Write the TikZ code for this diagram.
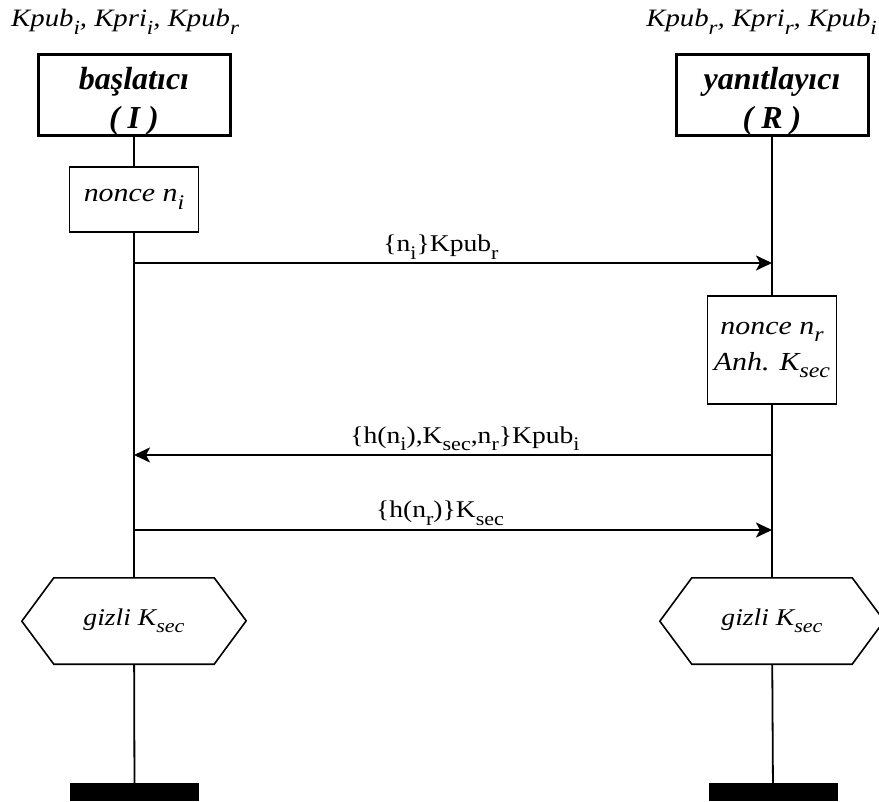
\documentclass[tikz,border=0pt]{standalone}
\usepackage{fontspec}
\usepackage{graphicx}
\setmainfont{Liberation Serif}
\newfontfamily\wideserif[FakeStretch=1.15]{Liberation Serif}
\usetikzlibrary{arrows.meta}

% lowered, slightly reduced index text
\newcommand{\lo}[1]{\raisebox{-0.3em}{\scalebox{0.8}{#1}}}

\tikzset{
  keylabel/.style={font=\wideserif\fontsize{25}{30}\selectfont\itshape, inner sep=0pt},
  rolebox/.style={draw, line width=3pt, minimum width=192pt, minimum height=81pt,
    inner sep=0pt},
  roletext/.style={align=center, inner sep=0pt,
    font=\fontsize{32}{39}\selectfont\bfseries\itshape},
  actbox/.style={draw, line width=1.6pt, minimum width=129pt, inner sep=0pt,
    align=center, font=\wideserif\fontsize{26}{36}\selectfont\itshape},
  hexcore/.style={minimum width=160pt, minimum height=86pt, inner sep=0pt,
    font=\wideserif\fontsize{24}{28}\selectfont\itshape},
  endbar/.style={fill=black, minimum width=129pt, minimum height=18pt, inner sep=0pt},
  lifeline/.style={line width=1.8pt},
  msg/.style={line width=2.2pt, -{Stealth[length=16pt,width=15pt,inset=4pt]}},
  msglabel/.style={anchor=base, inner sep=0pt, font=\wideserif\fontsize{24}{28}\selectfont},
  hexedge/.style={line width=1.6pt, line join=miter}
}

\newcommand{\hexframe}[1]{%
  \draw[hexedge] (#1.north west) -- (#1.north east) -- ++(32pt,-43pt)
    -- (#1.south east) -- (#1.south west) -- ++(-32pt,43pt) -- cycle;}

\begin{document}
\begin{tikzpicture}[x=1pt,y=-1pt]
  \useasboundingbox (0,0) rectangle (879,802);

  % key sets held by each party
  \node[keylabel, anchor=base west] (keysI) at (11,27)
    {Kpub\lo{i}, Kpri\lo{i}, Kpub\lo{r}};
  \node[keylabel, anchor=base east] (keysR) at (877,27)
    {Kpub\lo{r}, Kpri\lo{r}, Kpub\lo{i}};

  % parties
  \node[rolebox] (init) at (134,95.5) {};
  \node[roletext] (initName) at (134,101) {başlatıcı\\( I )};
  \node[rolebox] (resp) at (772,95.5) {};
  \node[roletext] (respName) at (772,101) {yanıtlayıcı\\( R )};

  % local actions
  \node[actbox, minimum height=65pt] (nonceI) at (134,199.5) {nonce n\lo{i}};
  \node[actbox, minimum height=108pt] (nonceR) at (772,350)
    {nonce n\lo{r}\\Anh. K\lo{sec}};

  % shared secret states
  \node[hexcore] (secI) at (134,621) {gizli K\lo{sec}};
  \node[hexcore] (secR) at (772,621) {gizli K\lo{sec}};
  \hexframe{secI}
  \hexframe{secR}

  % end of lifelines
  \node[endbar] (endI) at (134.5,792) {};
  \node[endbar] (endR) at (773,792) {};

  % lifelines
  \draw[lifeline] (init) -- (nonceI);
  \draw[lifeline] (nonceI) -- (secI);
  \draw[lifeline] (secI) -- (endI);
  \draw[lifeline] (resp) -- (nonceR);
  \draw[lifeline] (nonceR) -- (secR);
  \draw[lifeline] (secR) -- (endR);

  % message anchor points on the lifelines
  \coordinate (m1I) at (134,263);
  \coordinate (m1R) at (772,263);
  \coordinate (m2I) at (134,455);
  \coordinate (m2R) at (772,455);
  \coordinate (m3I) at (134,530);
  \coordinate (m3R) at (772,530);

  % messages
  \draw[msg] (m1I) -- (m1R);
  \node[msglabel] (lab1) at (441,252)
    {\{n\lo{i}\}Kpub\lo{r}};
  \draw[msg] (m2R) -- (m2I);
  \node[msglabel] (lab2) at (465,443)
    {\{h(n\lo{i}),K\lo{sec},n\lo{r}\}Kpub\lo{i}};
  \draw[msg] (m3I) -- (m3R);
  \node[msglabel] (lab3) at (440,518)
    {\{h(n\lo{r})\}K\lo{sec}};
\end{tikzpicture}
\end{document}
